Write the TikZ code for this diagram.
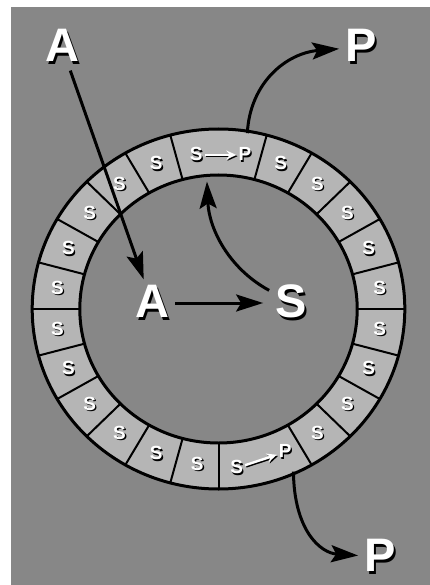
\documentclass[tikz,border=0pt]{standalone}
\usepackage{fontspec}
\setmainfont{Liberation Sans}
\usetikzlibrary{arrows.meta}
\definecolor{bggray}{gray}{0.53}
\definecolor{cellgray}{gray}{0.71}
\newcommand\shadowed[2][2pt]{\rlap{\kern#1\raisebox{-#1}{\color{black}#2}}#2}

\begin{document}
\begin{tikzpicture}[x=1pt,y=-1pt,>={Stealth[length=27pt,width=17pt,inset=5pt]},
  bigletter/.style={text=white,font=\fontsize{47}{47}\selectfont\bfseries,inner sep=6pt},
  cellletter/.style={text=white,font=\fontsize{19}{19}\selectfont\bfseries,inner sep=1pt},
  cellarrow/.style={line width=2.4pt,-{Stealth[length=10pt,width=9pt]},shorten <=1pt,shorten >=1pt},
  flow/.style={line width=3pt,->}]
  \useasboundingbox (0,0) rectangle (430,585);
  \fill[bggray] (11,7) rectangle (430,585);

  % ring of cells
  \begin{scope}[shift={(218.5,309)},x=1.035pt,y=1pt]
    \fill[cellgray,even odd rule] (0,0) ellipse [x radius=186.3pt,y radius=180pt]
      (0,0) ellipse [x radius=138.7pt,y radius=134pt];
    \foreach \a in {0,15,...,345} {
      \ifnum\a=90 \else\ifnum\a=285 \else
        \draw[line width=2pt] (\a:134) -- (\a:180);
      \fi\fi
    }
    \draw[line width=3pt] (0,0) ellipse [x radius=186.3pt,y radius=180pt]
      (0,0) ellipse [x radius=138.7pt,y radius=134pt];
    \foreach \i [evaluate=\i as \a using \i*15+7.5] in {0,1,2,3,4,7,8,9,10,11,12,13,14,15,16,17,20,21,22,23}
      \node[cellletter] (s\i) at (\a:157) {\shadowed[1.3pt]{S}};
    % cells where S turns into P
    \node[cellletter] (tS) at (-21.5,154) {\shadowed[1.3pt]{S}};
    \node[cellletter] (tP) at (25.5,154) {\shadowed[1.3pt]{P}};
    \node[cellletter] (bS) at (17.5,-159) {\shadowed[1.3pt]{S}};
    \node[cellletter] (bP) at (64.5,-143) {\shadowed[1.3pt]{P}};
    \coordinate (tin) at (95:128);
    \coordinate (tout) at (81:178);
    \coordinate (bout) at (294:178);
  \end{scope}
  \draw[cellarrow,black,transform canvas={shift={(1.2pt,-1.2pt)}}] (tS) -- (tP);
  \draw[cellarrow,white] (tS) -- (tP);
  \draw[cellarrow,black,transform canvas={shift={(1.2pt,-1.2pt)}}] (bS) -- (bP);
  \draw[cellarrow,white] (bS) -- (bP);

  \node[bigletter] (Atop) at (62,47) {\shadowed[2.5pt]{A}};
  \node[bigletter] (Ptop) at (361,47) {\shadowed[2.5pt]{P}};
  \node[bigletter] (Pbot) at (380,557) {\shadowed[2.5pt]{P}};
  \node[bigletter] (Ain) at (152,303) {\shadowed[2.5pt]{A}};
  \node[bigletter] (Sin) at (291,303) {\shadowed[2.5pt]{S}};

  \draw[flow] (Atop) -- (Ain);
  \draw[flow,shorten >=6pt] (Ain) -- (Sin);
  \draw[flow] (Sin.150) .. controls (228,268) and (209,228) .. (tin);
  \draw[flow] (tout) .. controls (250,82) and (287,53) .. (Ptop);
  \draw[flow] (bout) .. controls (294,530) and (320,553) .. (Pbot);
\end{tikzpicture}
\end{document}
